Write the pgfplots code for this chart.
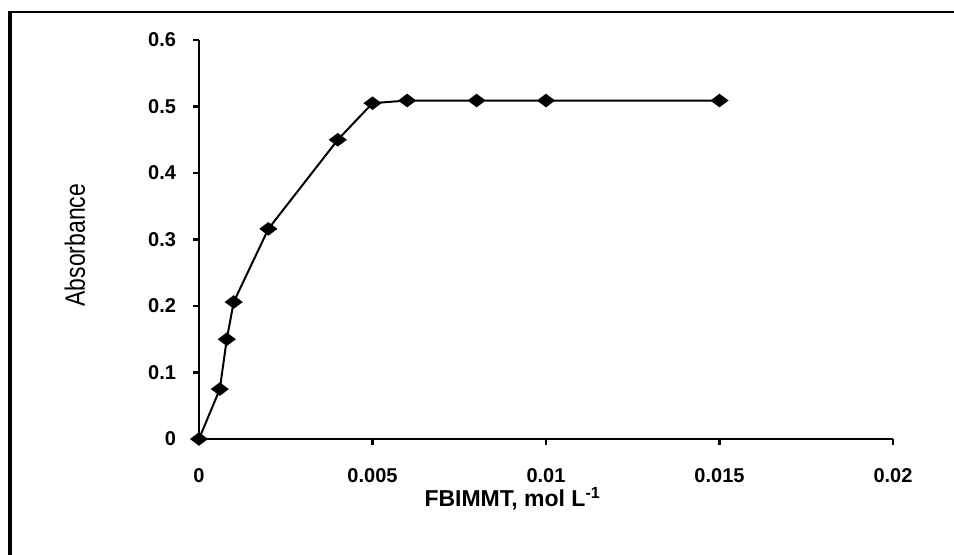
\documentclass[border=0pt]{standalone}
\usepackage{pgfplots}
\pgfplotsset{compat=1.18}
\usepackage{fontspec}
\setmainfont{Liberation Sans}
\begin{document}
\begin{tikzpicture}[x=1pt,y=1pt]
\useasboundingbox (0,0) rectangle (477,277.5);
% outer frame: top and left edges
\draw[line width=1pt] (3.75,271.5) -- (477,271.5);
\draw[line width=2pt] (4.75,272) -- (4.75,0);
\begin{axis}[
  at={(99.5pt,58pt)}, anchor=origin,
  scale only axis, width=347pt, height=199.5pt,
  xmin=0, xmax=0.02, ymin=0, ymax=0.6,
  enlargelimits=false, clip=false,
  axis x line=bottom, axis y line=left,
  axis line style={-, line width=1.4pt},
  tick align=outside, major tick length=3pt,
  tick style={line width=1.2pt, black},
  scaled x ticks=false, scaled y ticks=false,
  xtick={0,0.005,0.01,0.015,0.02},
  xticklabels={0,0.005,0.01,0.015,0.02},
  ytick={0,0.1,0.2,0.3,0.4,0.5,0.6},
  yticklabels={0,0.1,0.2,0.3,0.4,0.5,0.6},
  ticklabel style={font=\fontsize{10}{12}\selectfont\bfseries},
  xticklabel style={yshift=-8pt},
  yticklabel style={xshift=-5pt},
  xlabel={FBIMMT, mol L\textsuperscript{-1}},
  xlabel style={at={(axis description cs:0.452,-0.15)}, anchor=center,
    font=\fontsize{11.5}{13}\selectfont\bfseries},
  ylabel={\scalebox{0.82}[1]{Absorbance}},
  ylabel style={at={(axis description cs:-0.179,0.486)}, anchor=center,
    font=\fontsize{14}{16}\selectfont},
]
\addplot[black, line width=1pt, mark=diamond*, mark size=3.7pt,
  mark options={rotate=90, solid}] coordinates {
  (0,0) (0.0006,0.075) (0.0008,0.15) (0.001,0.206) (0.002,0.316)
  (0.004,0.45) (0.005,0.505) (0.006,0.509) (0.008,0.509)
  (0.01,0.509) (0.015,0.509)
};
\end{axis}
\end{tikzpicture}
\end{document}
